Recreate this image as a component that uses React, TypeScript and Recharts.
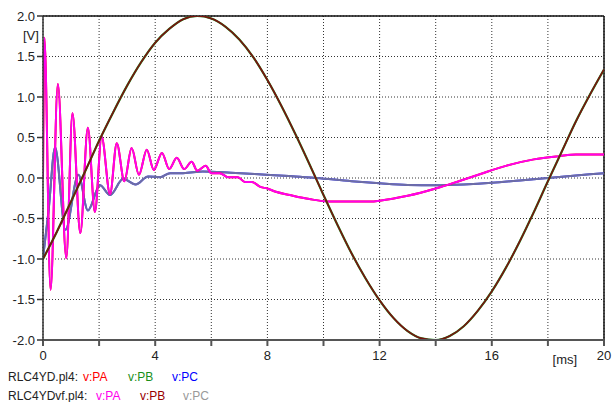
import React from 'react';
import { LineChart, Line, XAxis, YAxis, CartesianGrid, ReferenceLine } from 'recharts';

// v:PA (both files, pink drawn over red)
const paTimes = [0, 0.05, 0.27, 0.53, 0.83, 1.05, 1.33, 1.6, 1.85, 2.09, 2.39, 2.63, 2.9, 3.16, 3.42, 3.7, 3.95, 4.24, 4.5, 4.77, 5.03, 5.3, 5.5, 5.8, 6.0, 6.3, 6.6, 6.95, 7.2, 7.45, 7.75, 8.0, 8.3, 8.8, 9.5, 10.2, 11.0, 11.7, 12.0, 13.0, 14.0, 14.9, 15.6, 16.5, 17.5, 18.4, 19.0, 20.0];
const paValues = [0, 1.73, -1.38, 1.16, -0.99, 0.8, -0.68, 0.62, -0.42, 0.51, -0.2, 0.43, -0.04, 0.37, 0.04, 0.35, 0.1, 0.31, 0.11, 0.25, 0.11, 0.2, 0.09, 0.15, 0.06, 0.06, 0.01, 0.01, -0.05, -0.05, -0.11, -0.13, -0.17, -0.21, -0.26, -0.29, -0.29, -0.29, -0.28, -0.22, -0.13, -0.03, 0.05, 0.15, 0.23, 0.27, 0.29, 0.29];

// v:PB (both files)
const pbTimes = [0, 0.5, 1, 1.5, 2, 2.5, 3, 3.5, 4, 4.5, 5, 5.5, 6, 6.5, 7, 7.5, 8, 8.5, 9, 9.5, 10, 10.5, 11, 11.5, 12, 12.5, 13, 13.5, 14, 14.5, 15, 15.5, 16, 16.5, 17, 17.5, 18, 18.5, 19, 19.5, 20];
const pbValues = [-1.0, -0.66, -0.29, 0.08, 0.46, 0.81, 1.14, 1.43, 1.67, 1.84, 1.96, 2.0, 1.97, 1.87, 1.71, 1.49, 1.21, 0.89, 0.54, 0.17, -0.21, -0.58, -0.93, -1.24, -1.51, -1.73, -1.89, -1.98, -2.0, -1.95, -1.83, -1.64, -1.4, -1.11, -0.78, -0.42, -0.04, 0.33, 0.7, 1.03, 1.34];

// v:PC (both files)
const pcTimes = [0, 0.2, 0.43, 0.8, 1.26, 1.6, 2.03, 2.39, 2.86, 3.3, 3.75, 4.17, 4.53, 5.0, 5.7, 6.7, 8.1, 9.0, 9.76, 11.0, 12.0, 13.0, 14.0, 15.0, 16.0, 17.0, 18.0, 19.0, 20.0];
const pcValues = [-0.99, -0.4, 0.38, -0.64, 0.04, -0.4, -0.09, -0.21, -0.01, -0.08, 0.02, 0.01, 0.06, 0.06, 0.08, 0.065, 0.037, 0.02, 0.0, -0.04, -0.065, -0.085, -0.09, -0.08, -0.06, -0.03, 0.0, 0.03, 0.06];

const xTicks = [0, 2, 4, 6, 8, 10, 12, 14, 16, 18, 20];
const yTicks = [-2, -1.5, -1, -0.5, 0, 0.5, 1, 1.5, 2];

const paData = paTimes.map((t, i) => ({ t, v: paValues[i] }));
const pbData = pbTimes.map((t, i) => ({ t, v: pbValues[i] }));
const pcData = pcTimes.map((t, i) => ({ t, v: pcValues[i] }));

const FONT = '"Liberation Sans", Arial, sans-serif';

const XTick = (props: any) => {
  const { x, y, payload } = props;
  const v = payload.value;
  if (v === 18) {
    return (
      <text x={x + 17} y={y + 4} dy="0.71em" textAnchor="middle" fontSize={13} fontFamily={FONT} fill="#222">[ms]</text>
    );
  }
  if (v % 4 !== 0) return <g />;
  return (
    <text x={x} y={y} dy="0.71em" textAnchor="middle" fontSize={13} fontFamily={FONT} fill="#222">{String(v)}</text>
  );
};

const YTick = (props: any) => {
  const { x, y, payload } = props;
  return (
    <text x={x} y={y} dy="0.355em" textAnchor="end" fontSize={13} fontFamily={FONT} fill="#222">{payload.value.toFixed(1)}</text>
  );
};

const legendText: React.CSSProperties = { position: 'absolute', fontFamily: FONT, fontSize: 12, lineHeight: '14px', whiteSpace: 'nowrap' };

export default function App() {
  return (
    <div style={{ position: 'absolute', left: 0, top: 0, width: 616, height: 402, background: '#fff', overflow: 'hidden' }}>
      <LineChart width={616} height={402} margin={{ top: 16, right: 12, bottom: 0, left: 0 }}>
        <CartesianGrid stroke="#333" strokeDasharray="1 2" horizontalValues={yTicks} verticalValues={xTicks} />
        <XAxis
          type="number"
          dataKey="t"
          domain={[0, 20]}
          ticks={xTicks}
          allowDataOverflow
          height={62}
          tickSize={6}
          tickMargin={5}
          stroke="#555"
          strokeWidth={2}
          tick={<XTick />}
        />
        <YAxis
          type="number"
          dataKey="v"
          domain={[-2, 2]}
          ticks={yTicks}
          allowDataOverflow
          width={43}
          tickSize={6}
          tickMargin={2}
          stroke="#333"
          strokeWidth={1.5}
          tick={<YTick />}
        />
        <ReferenceLine y={2} stroke="#111" strokeWidth={1.5} />
        <ReferenceLine x={20} stroke="#111" strokeWidth={1.5} />
        <Line data={pcData} dataKey="v" type="monotone" stroke="#0000ff" strokeWidth={2} dot={false} isAnimationActive={false} />
        <Line data={pcData} dataKey="v" type="monotone" stroke="#8c8c8c" strokeOpacity={0.78} strokeWidth={2} dot={false} isAnimationActive={false} />
        <Line data={paData} dataKey="v" type="monotone" stroke="#ff0000" strokeWidth={2} dot={false} isAnimationActive={false} />
        <Line data={paData} dataKey="v" type="monotone" stroke="#ff00ee" strokeWidth={2} dot={false} isAnimationActive={false} />
        <Line data={pbData} dataKey="v" type="monotone" stroke="#1a8f1a" strokeWidth={2.2} dot={false} isAnimationActive={false} />
        <Line data={pbData} dataKey="v" type="monotone" stroke="#7a1010" strokeWidth={1.6} dot={false} isAnimationActive={false} />
      </LineChart>
      <div style={{ ...legendText, left: 23, top: 29, fontSize: 13, color: '#222' }}>[V]</div>
      <div style={{ ...legendText, left: 8, top: 370, color: '#222' }}>RLC4YD.pl4:</div>
      <div style={{ ...legendText, left: 83, top: 370, color: '#ff0000' }}>v:PA</div>
      <div style={{ ...legendText, left: 128, top: 370, color: '#1a8f1a' }}>v:PB</div>
      <div style={{ ...legendText, left: 172, top: 370, color: '#0000ff' }}>v:PC</div>
      <div style={{ ...legendText, left: 8, top: 389, color: '#222' }}>RLC4YDvf.pl4:</div>
      <div style={{ ...legendText, left: 96, top: 389, color: '#ff00ee' }}>v:PA</div>
      <div style={{ ...legendText, left: 140, top: 389, color: '#990000' }}>v:PB</div>
      <div style={{ ...legendText, left: 183, top: 389, color: '#999999' }}>v:PC</div>
    </div>
  );
}
